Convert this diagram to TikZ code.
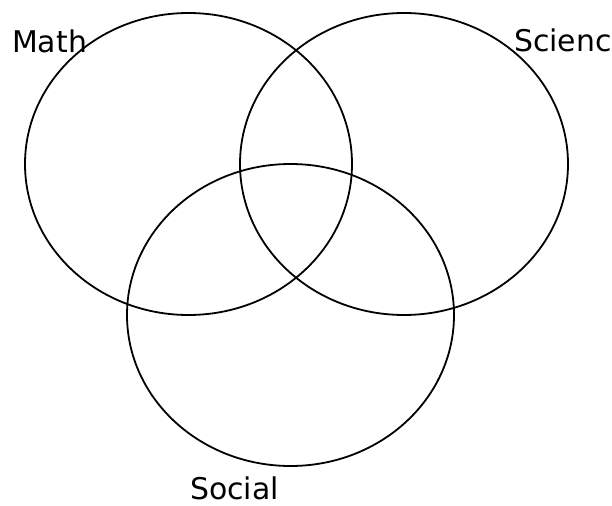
\documentclass[tikz,border=0pt]{standalone}
\usepackage{fontspec}
\setmainfont{DejaVu Sans}
\begin{document}
\begin{tikzpicture}[x=1bp,y=-1bp,
  venn/.style={draw=black,line width=1.8bp},
  lbl/.style={inner sep=0pt,anchor=base west,font=\fontsize{30}{36}\selectfont}]
\useasboundingbox (0,0) rectangle (612,506);
\draw[venn] (188.5,164) ellipse [x radius=163.5, y radius=151];
\draw[venn] (404,164) ellipse [x radius=164, y radius=151];
\draw[venn] (290.5,315) ellipse [x radius=163.5, y radius=151];
\node[lbl] (math) at (12,53) {Math};
\node[lbl] (sci) at (514,52) {Scienc};
\node[lbl] (soc) at (190,499) {Social};
\end{tikzpicture}
\end{document}
